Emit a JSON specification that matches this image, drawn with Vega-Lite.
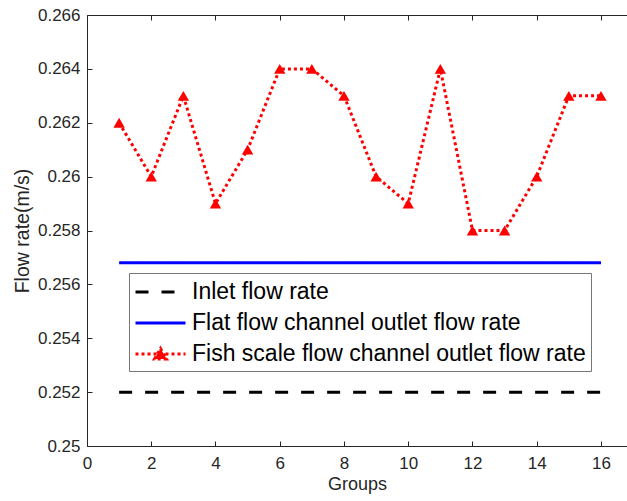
{
  "$schema": "https://vega.github.io/schema/vega-lite/v6.json",
  "width": 540,
  "height": 431,
  "autosize": "none",
  "padding": {"left": 87, "top": 15, "right": 0, "bottom": 55},
  "background": "white",
  "config": {
    "view": {"stroke": null},
    "font": "Liberation Sans",
    "axis": {"grid": false, "labelFlush": false, "domainColor": "#262626", "tickColor": "#262626", "labelColor": "#262626", "titleColor": "#262626", "labelFont": "Liberation Sans", "titleFont": "Liberation Sans", "labelFontSize": 17, "titleFontSize": 18, "titleFontWeight": "normal", "domainWidth": 1, "tickWidth": 1}
  },
  "datasets": {
    "fish": [
      {"group": 1, "rate": 0.262}, {"group": 2, "rate": 0.260}, {"group": 3, "rate": 0.263}, {"group": 4, "rate": 0.259},
      {"group": 5, "rate": 0.261}, {"group": 6, "rate": 0.264}, {"group": 7, "rate": 0.264}, {"group": 8, "rate": 0.263},
      {"group": 9, "rate": 0.260}, {"group": 10, "rate": 0.259}, {"group": 11, "rate": 0.264}, {"group": 12, "rate": 0.258},
      {"group": 13, "rate": 0.258}, {"group": 14, "rate": 0.260}, {"group": 15, "rate": 0.263}, {"group": 16, "rate": 0.263}
    ],
    "lines": [
      {"group": 1, "rate": 0.252, "series": "Inlet flow rate"},
      {"group": 16, "rate": 0.252, "series": "Inlet flow rate"},
      {"group": 1, "rate": 0.2568, "series": "Flat flow channel outlet flow rate"},
      {"group": 16, "rate": 0.2568, "series": "Flat flow channel outlet flow rate"}
    ]
  },
  "layer": [
    {
      "data": {"name": "lines"},
      "mark": {"type": "line", "strokeWidth": 3, "clip": true},
      "encoding": {
        "x": {"field": "group", "type": "quantitative", "scale": {"domain": [0, 16.81], "nice": false, "zero": false},
          "axis": {"orient": "bottom", "values": [0, 2, 4, 6, 8, 10, 12, 14, 16], "tickSize": -5, "labelPadding": 14, "labelFlush": false, "title": "Groups", "titlePadding": 4}},
        "y": {"field": "rate", "type": "quantitative", "scale": {"domain": [0.25, 0.266], "nice": false, "zero": false},
          "axis": {"values": [0.25, 0.252, 0.254, 0.256, 0.258, 0.26, 0.262, 0.264, 0.266], "format": ".3~f", "tickSize": -5, "labelPadding": 12, "labelFlush": false, "title": "Flow rate(m/s)", "titlePadding": 5, "titleFontSize": 19.5}},
        "color": {"field": "series", "type": "nominal",
          "scale": {"domain": ["Inlet flow rate", "Flat flow channel outlet flow rate", "Fish scale flow channel outlet flow rate"], "range": ["#000000", "#0000ff", "#ff0000"]},
          "legend": {
            "title": null, "orient": "none", "legendX": 42, "legendY": 258,
            "symbolType": "M-1,0H3", "symbolSize": 625, "symbolStrokeWidth": 3,
            "labelFont": "Liberation Sans", "labelFontSize": 23, "labelColor": "#000000", "labelOffset": 30,
            "rowPadding": 5, "padding": 5, "fillColor": "white", "strokeColor": "#777777",
            "labelLimit": 1000,
            "encode": {"symbols": {"update": {
              "shape": {"signal": "datum.value === 'Fish scale flow channel outlet flow rate' ? 'M-1,0H3M0.52,0.4L1,-0.44L1.48,0.4Z' : 'M-1,0H3'"},
              "fill": {"signal": "datum.value === 'Fish scale flow channel outlet flow rate' ? '#ff0000' : 'transparent'"}
            }}}
          }},
        "strokeDash": {"field": "series", "type": "nominal",
          "scale": {"domain": ["Inlet flow rate", "Flat flow channel outlet flow rate", "Fish scale flow channel outlet flow rate"], "range": [[13, 13], [1, 0], [3, 3]]}}
      }
    },
    {
      "data": {"name": "fish"},
      "transform": [{"calculate": "'Fish scale flow channel outlet flow rate'", "as": "series"}],
      "mark": {"type": "line", "strokeWidth": 3},
      "encoding": {
        "x": {"field": "group", "type": "quantitative", "axis": null},
        "y": {"field": "rate", "type": "quantitative"},
        "color": {"field": "series", "type": "nominal"},
        "strokeDash": {"field": "series", "type": "nominal"}
      }
    },
    {
      "data": {"name": "fish"},
      "mark": {"type": "point", "shape": "triangle-up", "filled": true, "color": "#ff0000", "size": 130, "opacity": 1},
      "encoding": {
        "x": {"field": "group", "type": "quantitative",
          "axis": {"orient": "top", "values": [0, 2, 4, 6, 8, 10, 12, 14, 16], "tickSize": -5, "labels": false, "title": null}},
        "y": {"field": "rate", "type": "quantitative"}
      }
    }
  ],
  "resolve": {"axis": {"x": "independent"}}
}
